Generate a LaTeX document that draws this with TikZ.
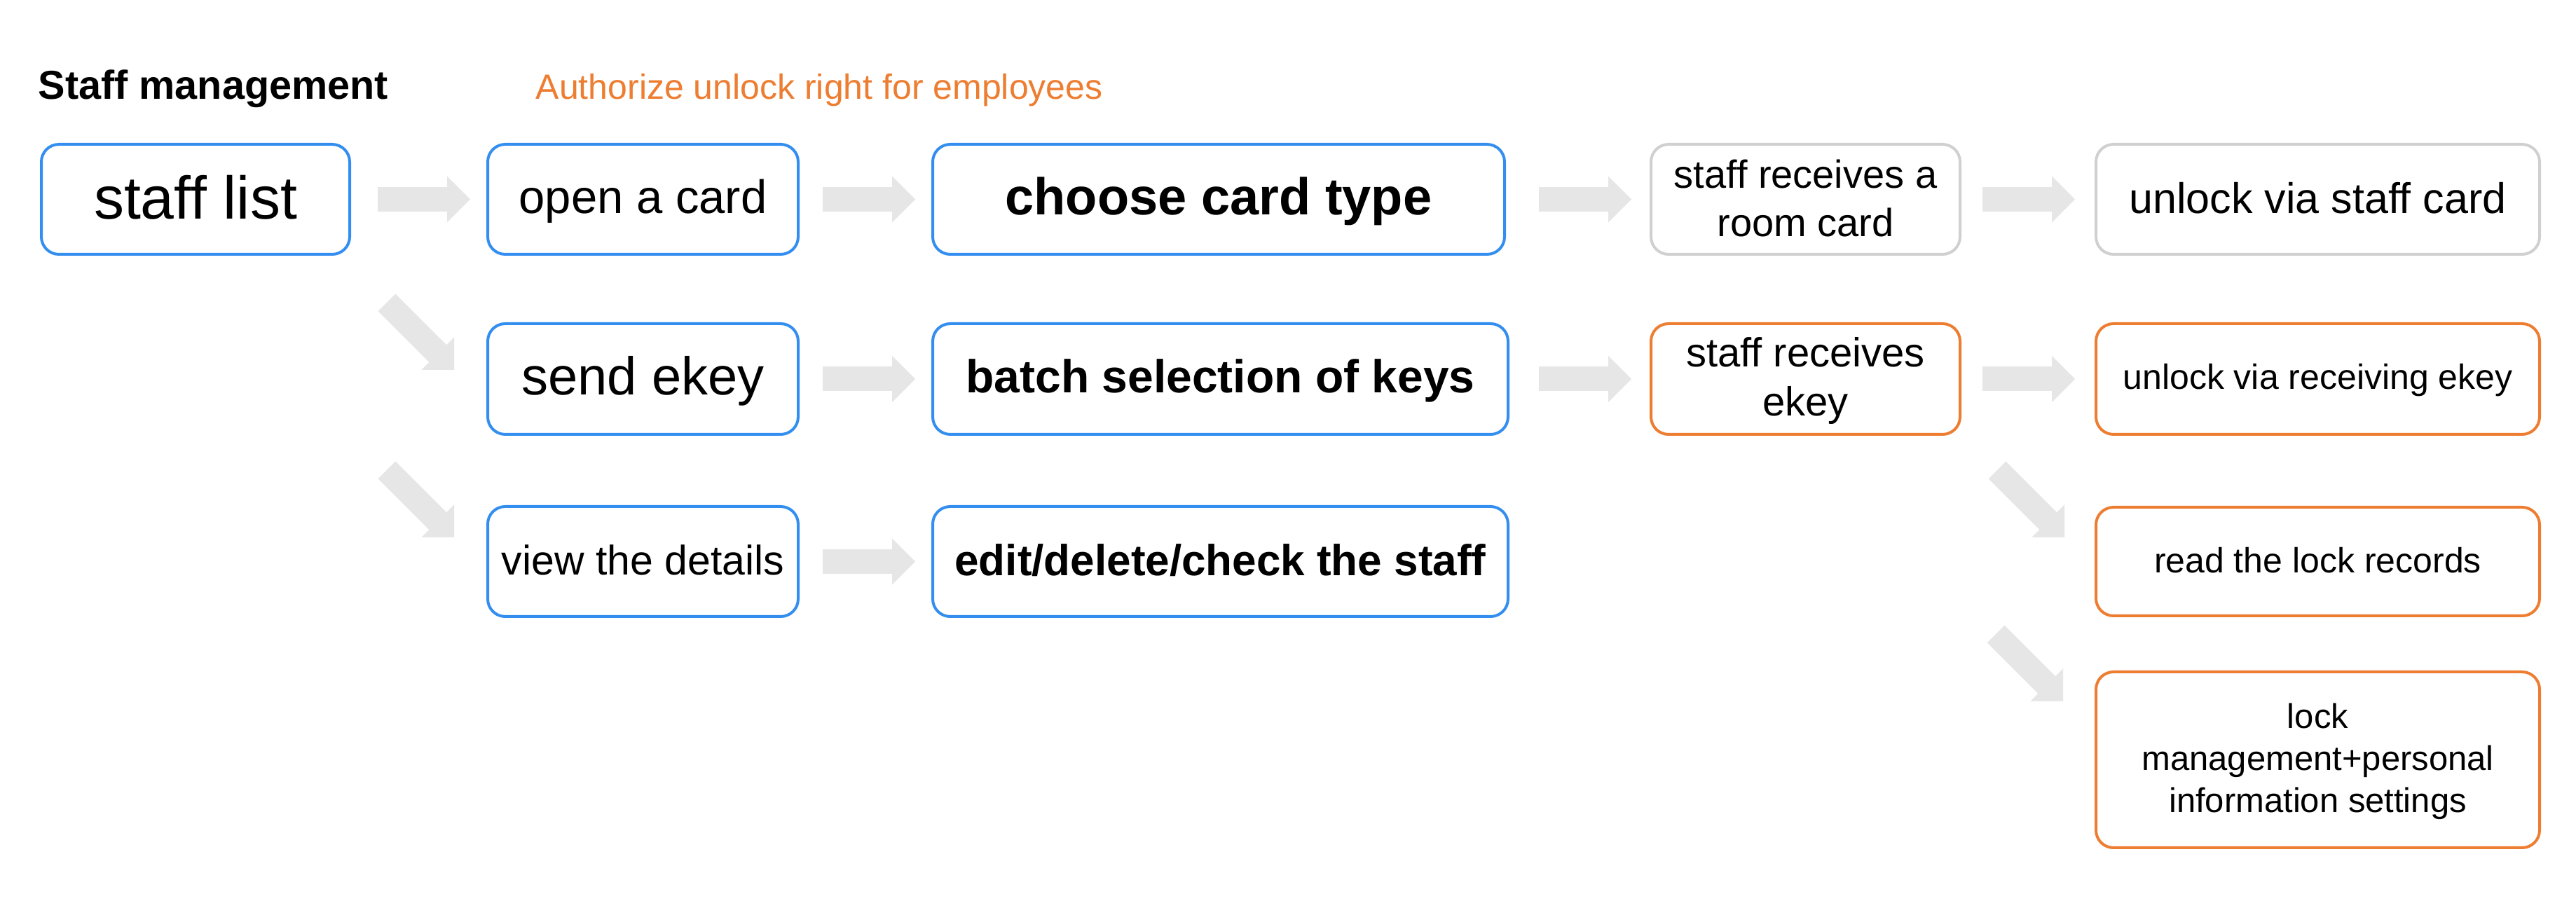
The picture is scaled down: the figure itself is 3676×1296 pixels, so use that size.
\documentclass[tikz,border=0pt]{standalone}
\usepackage{fontspec}
\setmainfont{Liberation Sans}
\usetikzlibrary{arrows.meta}
\definecolor{bblue}{RGB}{51,142,240}
\definecolor{borange}{RGB}{237,125,49}
\definecolor{bgray}{RGB}{208,208,208}
\definecolor{agray}{RGB}{230,230,230}
\newcommand\lstrut{\rule[-0.15em]{0pt}{0.95em}}
\begin{document}
\begin{tikzpicture}[x=0.1mm,y=-0.1mm,
  box/.style={draw, line width=0.4mm, rounded corners=2.5mm, inner sep=0pt, align=center, fill=white},
  bluebox/.style={box, draw=bblue},
  orangebox/.style={box, draw=borange},
  graybox/.style={box, draw=bgray},
  flow/.style={draw=agray, line width=3.5mm, -{Triangle[length=3.3mm,width=6.6mm,line width=0pt]}},
]
\fill[white] (0,0) rectangle (3676,1296);
\useasboundingbox (0,0) rectangle (3676,1296);

% titles
\node[anchor=base west, inner sep=0pt, font=\fontsize{16.39}{19}\selectfont\bfseries] (title) at (54,142) {Staff management};
\node[anchor=base west, inner sep=0pt, text=borange, font=\fontsize{14.23}{17}\selectfont] (sub) at (764,142) {Authorize unlock right for employees};

% row 1
\node[bluebox, minimum width=44mm, minimum height=15.7mm, font=\fontsize{24.47}{29}\selectfont] (staff) at (279,284.5) {\lstrut staff list};
\node[bluebox, minimum width=44.3mm, minimum height=15.7mm, font=\fontsize{19.06}{23}\selectfont] (open) at (917.5,284.5) {\lstrut open a card};
\node[bluebox, minimum width=81.6mm, minimum height=15.7mm, font=\fontsize{21.06}{25}\selectfont\bfseries] (choose) at (1739,284.5) {\lstrut choose card type};
\node[graybox, minimum width=44.1mm, minimum height=15.7mm, font=\fontsize{15.93}{19.63}\selectfont] (recvcard) at (2576.5,284.5) {\lstrut staff receives a\\\lstrut room card};
\node[graybox, minimum width=63.3mm, minimum height=15.7mm, font=\fontsize{17.36}{21}\selectfont] (unlockcard) at (3307.5,284.5) {\lstrut unlock via staff card};

% row 2
\node[bluebox, minimum width=44.3mm, minimum height=15.8mm, font=\fontsize{21.62}{26}\selectfont] (send) at (917.5,541) {\lstrut send ekey};
\node[bluebox, minimum width=82.1mm, minimum height=15.8mm, font=\fontsize{18.78}{22}\selectfont\bfseries] (batch) at (1741.5,541) {\lstrut batch selection of keys};
\node[orangebox, minimum width=44.1mm, minimum height=15.8mm, font=\fontsize{16.5}{19.92}\selectfont] (recvekey) at (2576.5,541) {\lstrut staff receives\\\lstrut ekey};
\node[orangebox, minimum width=63.3mm, minimum height=15.8mm, font=\fontsize{14.23}{17}\selectfont] (unlockekey) at (3307.5,541) {\lstrut unlock via receiving ekey};

% row 3
\node[bluebox, minimum width=44.3mm, minimum height=15.7mm, font=\fontsize{16.79}{20}\selectfont] (view) at (917.5,801.5) {\lstrut view the details};
\node[bluebox, minimum width=82.1mm, minimum height=15.7mm, font=\fontsize{17.64}{21}\selectfont\bfseries] (edit) at (1741.5,801.5) {\lstrut edit/delete/check the staff};
\node[orangebox, minimum width=63.3mm, minimum height=15.5mm, font=\fontsize{14.23}{17}\selectfont] (records) at (3307.5,801.5) {\lstrut read the lock records};

% row 4
\node[orangebox, minimum width=63.3mm, minimum height=25.1mm, font=\fontsize{13.94}{17.07}\selectfont] (lockmgmt) at (3307.5,1084.5) {\lstrut lock\\\lstrut management+personal\\\lstrut information settings};

% horizontal arrows
\draw[flow, shorten <=3.8mm, shorten >=2.3mm] (staff) -- (open);
\draw[flow, shorten <=3.3mm, shorten >=2.3mm] (open) -- (choose);
\draw[flow, shorten <=4.7mm, shorten >=2.6mm] (choose) -- (recvcard);
\draw[flow, shorten <=3.0mm, shorten >=2.8mm] (recvcard) -- (unlockcard);
\draw[flow, shorten <=3.3mm, shorten >=2.3mm] (send) -- (batch);
\draw[flow, shorten <=4.2mm, shorten >=2.6mm] (batch) -- (recvekey);
\draw[flow, shorten <=3.0mm, shorten >=2.8mm] (recvekey) -- (unlockekey);
\draw[flow, shorten <=3.3mm, shorten >=2.3mm] (view) -- (edit);

% diagonal arrows
\coordinate (d1s) at (552,432);
\coordinate (d1e) at (648,528);
\coordinate (d2s) at (552,671);
\coordinate (d2e) at (648,767);
\coordinate (d3s) at (2850,671);
\coordinate (d3e) at (2946,767);
\coordinate (d4s) at (2848,905);
\coordinate (d4e) at (2944,1001);
\draw[flow] (d1s) -- (d1e);
\draw[flow] (d2s) -- (d2e);
\draw[flow] (d3s) -- (d3e);
\draw[flow] (d4s) -- (d4e);
\end{tikzpicture}
\end{document}
